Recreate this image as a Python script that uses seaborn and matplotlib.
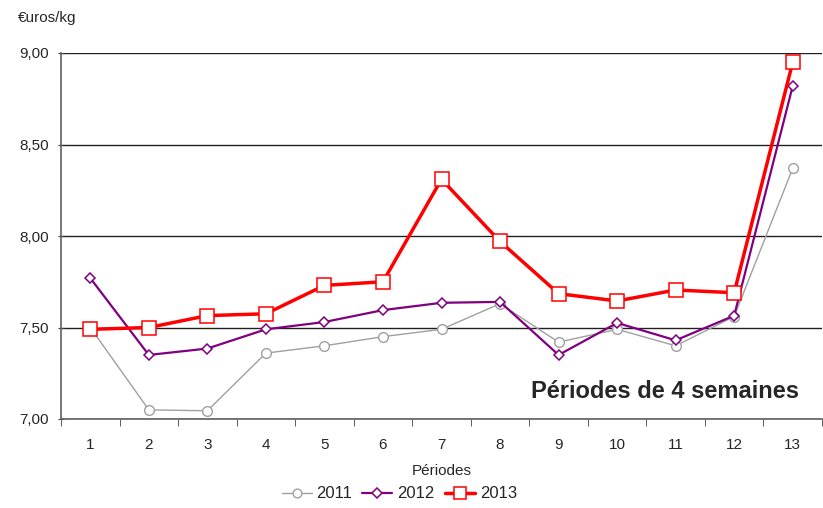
import matplotlib
matplotlib.use("Agg")
import matplotlib.pyplot as plt
import matplotlib.ticker as mticker
import seaborn as sns
import pandas as pd
import numpy as np

periods = list(range(1, 14))
prix_2011 = [7.50, 7.05, 7.045, 7.36, 7.40, 7.45, 7.49, 7.63, 7.42, 7.49, 7.40, 7.56, 8.37]
prix_2012 = [7.77, 7.35, 7.385, 7.49, 7.53, 7.595, 7.635, 7.64, 7.35, 7.525, 7.43, 7.565, 8.82]
prix_2013 = [7.49, 7.50, 7.565, 7.575, 7.73, 7.75, 8.31, 7.97, 7.685, 7.645, 7.705, 7.69, 8.95]

sns.set_style("white")
plt.rcParams["font.family"] = ["Liberation Sans", "DejaVu Sans"]

fig = plt.figure(figsize=(8.23, 5.08), dpi=100)
ax = fig.add_axes([61 / 823, 1 - 419 / 508, 761 / 823, 366 / 508])

df = pd.DataFrame({"Période": periods, "2011": prix_2011, "2012": prix_2012, "2013": prix_2013})

sns.lineplot(data=df, x="Période", y="2011", ax=ax, color="#a0a0a0", lw=1,
             marker="o", markersize=7, markerfacecolor="white",
             markeredgecolor="#a0a0a0", markeredgewidth=1, label="2011", zorder=3)
sns.lineplot(data=df, x="Période", y="2012", ax=ax, color="#800080", lw=1.6,
             marker="D", markersize=5.5, markerfacecolor="white",
             markeredgecolor="#800080", markeredgewidth=1.1, label="2012", zorder=4)
sns.lineplot(data=df, x="Période", y="2013", ax=ax, color="#ff0000", lw=2.5,
             marker="s", markersize=10, markerfacecolor="white",
             markeredgecolor="#ff0000", markeredgewidth=1.1, label="2013", zorder=5)

ax.set_xlim(0.5, 13.5)
ax.set_ylim(7.0, 9.0)
ax.set_yticks(np.arange(7.0, 9.01, 0.5))
ax.yaxis.set_major_formatter(mticker.FuncFormatter(lambda v, p: f"{v:.2f}".replace(".", ",")))
ax.set_xticks(periods)
ax.set_xticks(np.arange(0.5, 13.6, 1), minor=True)
ax.tick_params(axis="x", which="major", length=0, labelsize=11, pad=14)
ax.tick_params(axis="x", which="minor", length=5, color="#404040", direction="out", bottom=True)
ax.tick_params(axis="y", which="major", length=5, color="#404040", direction="inout", left=True, labelsize=11, pad=6)

ax.grid(axis="y", color="#202020", lw=1)
ax.grid(axis="x", visible=False)
for s in ["top", "right"]:
    ax.spines[s].set_visible(False)
for s in ["left", "bottom"]:
    ax.spines[s].set_color("#606060")
    ax.spines[s].set_linewidth(1.2)

ax.set_xlabel("Périodes", fontsize=11, labelpad=8)
ax.set_ylabel("")
fig.text(18 / 823, 1 - 18 / 508, "€uros/kg", fontsize=11, va="center", ha="left")
ax.text(0.794, 0.074, "Périodes de 4 semaines", transform=ax.transAxes, fontsize=17,
        fontweight="bold", ha="center", va="center")

ax.legend(loc="center", bbox_to_anchor=(0.485, 1 - 494 / 508), bbox_transform=fig.transFigure,
          ncol=3, frameon=False, fontsize=12, handlelength=1.8, columnspacing=0.6,
          handletextpad=0.3, markerscale=0.9)

fig.savefig("out.png", dpi=100)
